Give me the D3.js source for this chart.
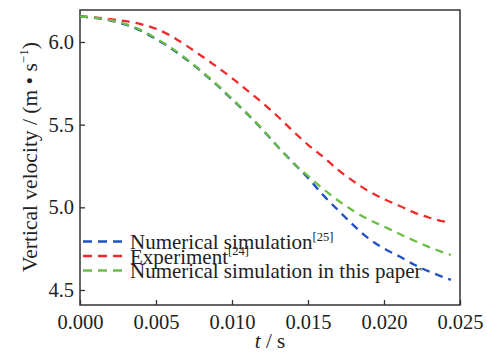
<!DOCTYPE html>
<html><head><meta charset="utf-8">
<script src="https://cdn.jsdelivr.net/npm/d3@7/dist/d3.min.js"></script>
<style>
html,body{margin:0;padding:0;background:#fff;}
svg{display:block;font-family:"Liberation Serif","Times New Roman",serif;}
</style></head>
<body><svg id="c" width="487" height="353"></svg>
<script>
const xTicks = [0.000, 0.005, 0.010, 0.015, 0.020, 0.025];
const xTickLabels = ["0.000", "0.005", "0.010", "0.015", "0.020", "0.025"];
const yTicks = [4.5, 5.0, 5.5, 6.0];
const yTickLabels = ["4.5", "5.0", "5.5", "6.0"];

const tRed = [0, 0.002, 0.004, 0.005, 0.006, 0.007, 0.008, 0.009, 0.010, 0.011, 0.012, 0.013, 0.014, 0.015, 0.016, 0.017, 0.018, 0.019, 0.020, 0.021, 0.022, 0.023, 0.0243];
const vRed = [6.155, 6.138, 6.108, 6.080, 6.036, 5.978, 5.915, 5.850, 5.782, 5.707, 5.632, 5.551, 5.462, 5.378, 5.305, 5.225, 5.157, 5.097, 5.050, 5.010, 4.968, 4.937, 4.907];

const tGreen = [0, 0.002, 0.003, 0.004, 0.005, 0.006, 0.007, 0.008, 0.009, 0.010, 0.011, 0.012, 0.013, 0.014, 0.015, 0.016, 0.017, 0.018, 0.019, 0.020, 0.021, 0.022, 0.023, 0.0244];
const vGreen = [6.155, 6.132, 6.108, 6.073, 6.022, 5.965, 5.898, 5.824, 5.744, 5.657, 5.568, 5.473, 5.369, 5.270, 5.190, 5.111, 5.040, 4.978, 4.926, 4.884, 4.840, 4.798, 4.758, 4.712];

const tBlue = [0, 0.002, 0.003, 0.004, 0.005, 0.006, 0.007, 0.008, 0.009, 0.010, 0.011, 0.012, 0.013, 0.014, 0.015, 0.016, 0.017, 0.018, 0.019, 0.020, 0.021, 0.022, 0.023, 0.0244];
const vBlue = [6.155, 6.130, 6.105, 6.069, 6.018, 5.961, 5.894, 5.820, 5.740, 5.653, 5.565, 5.470, 5.368, 5.272, 5.178, 5.074, 4.981, 4.891, 4.811, 4.751, 4.704, 4.653, 4.611, 4.561];

const seriesNames = ["Numerical simulation", "Experiment", "Numerical simulation in this paper"];
const seriesRefs = ["[25]", "[24]", ""];
const seriesColors = ["#2150c0", "#f02a2a", "#6cbf45"];

const svg = d3.select("#c");
const x = d3.scaleLinear().domain([0, 0.025]).range([80, 460]);
const y = d3.scaleLinear().domain([4.5, 6.0]).range([290, 42]);
const yTop = y.invert(10), yBot = y.invert(305);
y.domain([yBot, yTop]).range([305, 10]);

const axisColor = "#333";
const textColor = "#222";

// frame
svg.append("rect").attr("x", x(0)).attr("y", y(yTop)).attr("width", x(0.025) - x(0)).attr("height", y(yBot) - y(yTop))
  .attr("fill", "none").attr("stroke", axisColor).attr("stroke-width", 1.5);

// x axis (inward ticks)
const gx = svg.append("g").attr("transform", `translate(0,${y(yBot)})`)
  .call(d3.axisBottom(x).tickValues(xTicks).tickFormat((d, i) => xTickLabels[i]).tickSizeInner(-5).tickSizeOuter(0).tickPadding(9));
gx.select(".domain").remove();
gx.selectAll("line").attr("stroke", axisColor).attr("stroke-width", 1.3);
gx.selectAll("text").attr("font-size", 20.5).attr("fill", textColor).attr("font-family", "Liberation Serif");

// y axis
const gy = svg.append("g").attr("transform", `translate(${x(0)},0)`)
  .call(d3.axisLeft(y).tickValues(yTicks).tickFormat((d, i) => yTickLabels[i]).tickSizeInner(-5).tickSizeOuter(0).tickPadding(6));
gy.select(".domain").remove();
gy.selectAll("line").attr("stroke", axisColor).attr("stroke-width", 1.3);
gy.selectAll("text").attr("font-size", 20.5).attr("fill", textColor).attr("font-family", "Liberation Serif");

// lines
const line = d3.line().x(d => x(d[0])).y(d => y(d[1])).curve(d3.curveMonotoneX);
const data = [
  { t: tBlue, v: vBlue, c: seriesColors[0] },
  { t: tRed, v: vRed, c: seriesColors[1] },
  { t: tGreen, v: vGreen, c: seriesColors[2] }
];
const drawOrder = [1, 0, 2];
drawOrder.forEach(i => {
  const s = data[i];
  svg.append("path").datum(s.t.map((t, k) => [t, s.v[k]]))
    .attr("d", line).attr("fill", "none").attr("stroke", s.c)
    .attr("stroke-width", 2.3).attr("stroke-dasharray", "8,6");
});

// legend
const legY = [241.5, 256, 270.5];
seriesNames.forEach((n, i) => {
  svg.append("line").attr("x1", 83).attr("x2", 123).attr("y1", legY[i]).attr("y2", legY[i])
    .attr("stroke", seriesColors[i]).attr("stroke-width", 2.3).attr("stroke-dasharray", "9,6");
  const t = svg.append("text").attr("x", 130).attr("y", legY[i] + 7.5).attr("font-size", 21).attr("fill", textColor);
  t.append("tspan").text(n);
  if (seriesRefs[i]) t.append("tspan").attr("font-size", 12.5).attr("dy", -8.5).text(seriesRefs[i]);
});

// axis titles
const xt = svg.append("text").attr("x", 270).attr("y", 348).attr("text-anchor", "middle").attr("font-size", 21).attr("fill", textColor);
xt.append("tspan").attr("font-style", "italic").text("t");
xt.append("tspan").text(" / s");

const yt = svg.append("text").attr("transform", "translate(36.5,157) rotate(-90)").attr("text-anchor", "middle").attr("font-size", 21.5).attr("fill", textColor);
yt.append("tspan").text("Vertical velocity / (m • s");
yt.append("tspan").attr("font-size", 13).attr("dy", -9).text("−1");
yt.append("tspan").attr("dy", 9).text(")");
</script></body></html>
